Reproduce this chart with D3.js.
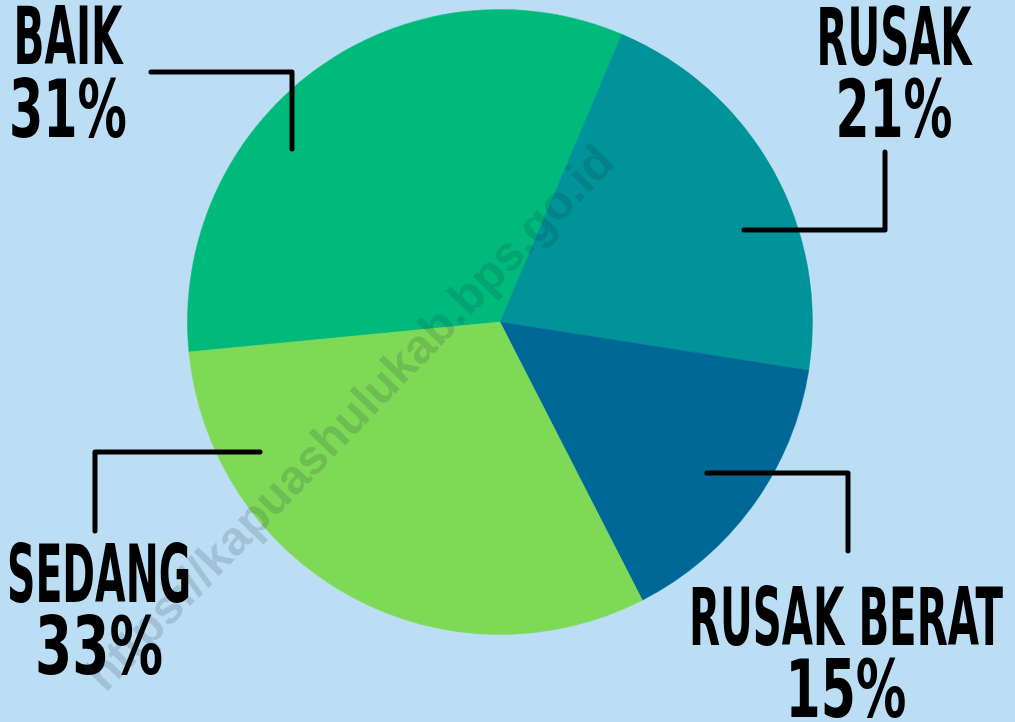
<!DOCTYPE html>
<html>
<head>
<meta charset="utf-8">
<script src="https://cdn.jsdelivr.net/npm/d3@7/dist/d3.min.js"></script>
<style>
  html, body { margin: 0; padding: 0; background: #BCDEF5; overflow: hidden; }
  svg { display: block; }
</style>
</head>
<body>
<div id="chart"></div>
<script>
// ---- data ----
const categories = ["BAIK", "RUSAK", "RUSAK BERAT", "SEDANG"];
// slice shares as drawn in the reference (degrees of each slice / 3.6)
const sliceShares = [32.9, 21.1, 15.0, 31.0];
// percentage texts as printed on the reference
const percentLabels = ["31%", "21%", "15%", "33%"];
const watermark = "https://kapuashulukab.bps.go.id";

// ---- styles / layout ----
const W = 1015, H = 722;
const colors = { "BAIK": "#00BA7C", "RUSAK": "#009399", "RUSAK BERAT": "#006896", "SEDANG": "#7ED957" };
const center = [500, 322], radius = 312.5;
const startDeg = -95.5;

// label layout: centre x, two baselines, target widths, leader path
const labelLayout = {
  "BAIK":        { cx: 68,  y1: 64,  y2: 137, w1: 109, w2: 118, leader: [[151,72],[292,72],[292,149]] },
  "RUSAK":       { cx: 894, y1: 65,  y2: 137, w1: 155, w2: 117, leader: [[885,152],[885,230],[744,230]] },
  "RUSAK BERAT": { cx: 846, y1: 645, y2: 717, w1: 314, w2: 121, leader: [[707,473],[848,473],[848,551]] },
  "SEDANG":      { cx: 99,  y1: 602, y2: 674, w1: 184, w2: 128, leader: [[95,531],[95,452],[260,452]] }
};

const svg = d3.select("#chart").append("svg")
  .attr("width", W).attr("height", H)
  .attr("viewBox", `0 0 ${W} ${H}`);

svg.append("rect").attr("width", W).attr("height", H).attr("fill", "#BCDEF5");

const data = categories.map((c, i) => ({ cat: c, value: sliceShares[i], label: percentLabels[i] }));

const pie = d3.pie().sort(null).value(d => d.value)
  .startAngle(startDeg * Math.PI / 180)
  .endAngle((startDeg + 360) * Math.PI / 180);
const arc = d3.arc().innerRadius(0).outerRadius(radius);

const g = svg.append("g").attr("transform", `translate(${center[0]},${center[1]})`);
g.selectAll("path.slice").data(pie(data)).join("path")
  .attr("class", "slice")
  .attr("d", arc)
  .attr("fill", d => colors[d.data.cat])
  .attr("stroke", d => colors[d.data.cat])
  .attr("stroke-width", 0.5);

// leader lines
const line = d3.line();
svg.selectAll("path.leader").data(data).join("path")
  .attr("class", "leader")
  .attr("d", d => line(labelLayout[d.cat].leader))
  .attr("fill", "none")
  .attr("stroke", "#000")
  .attr("stroke-width", 5)
  .attr("stroke-linecap", "round")
  .attr("stroke-linejoin", "round");

// labels (name + percentage in one text element)
const fontFam = "'Liberation Sans Narrow', 'DejaVu Sans Condensed', 'Roboto', sans-serif";
const lbl = svg.selectAll("text.lbl").data(data).join("text")
  .attr("class", "lbl")
  .attr("text-anchor", "middle")
  .attr("font-family", fontFam)
  .attr("font-weight", "bold")
  .attr("font-size", 80)
  .attr("fill", "#000");
lbl.append("tspan")
  .attr("x", d => labelLayout[d.cat].cx)
  .attr("y", d => labelLayout[d.cat].y1)
  .attr("textLength", d => labelLayout[d.cat].w1)
  .attr("lengthAdjust", "spacingAndGlyphs")
  .text(d => d.cat);
lbl.append("tspan")
  .attr("x", d => labelLayout[d.cat].cx)
  .attr("y", d => labelLayout[d.cat].y2)
  .attr("textLength", d => labelLayout[d.cat].w2)
  .attr("lengthAdjust", "spacingAndGlyphs")
  .text(d => d.label);

// watermark
svg.append("text")
  .attr("transform", "translate(352,420) rotate(-46)")
  .attr("text-anchor", "middle")
  .attr("dominant-baseline", "middle")
  .attr("font-family", "'Liberation Sans', Arial, sans-serif")
  .attr("font-weight", "bold")
  .attr("font-size", 48)
  .attr("fill", "#1a2a3a")
  .attr("fill-opacity", 0.16)
  .text(watermark);
</script>
</body>
</html>
